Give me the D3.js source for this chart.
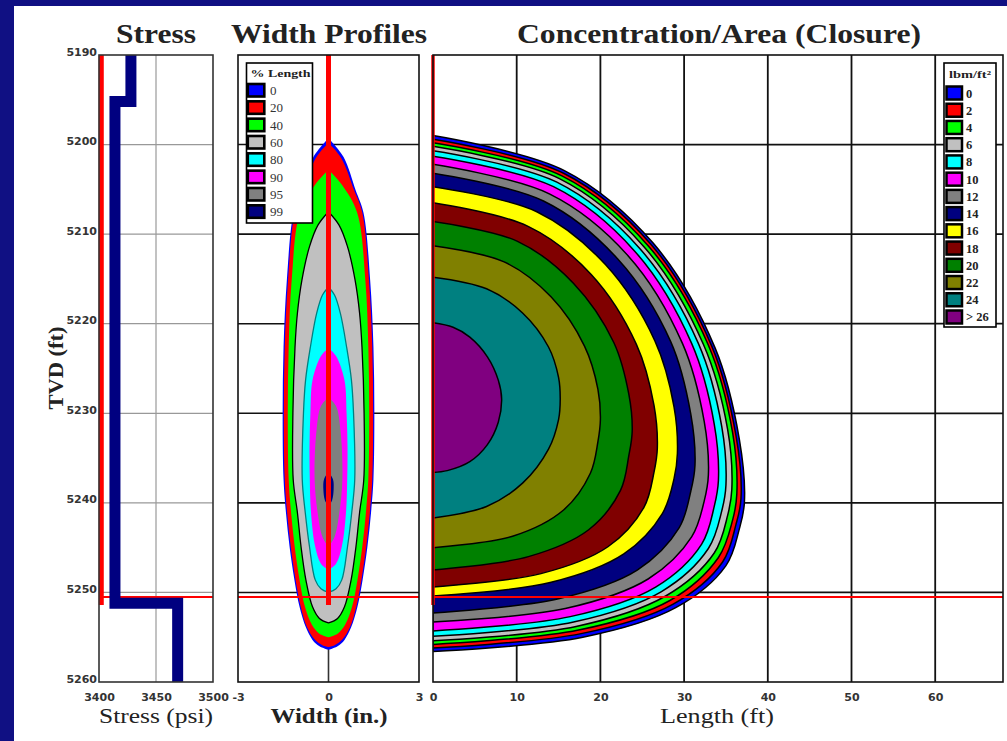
<!DOCTYPE html>
<html>
<head>
<meta charset="utf-8">
<script src="https://d3js.org/d3.v7.min.js"></script>
<style>
  body { margin: 0; background: #101083; }
</style>
</head>
<body>
<div id="chart"></div>
<script>
// tick values
var depthTicks = [5190, 5200, 5210, 5220, 5230, 5240, 5250, 5260];
var stressTicks = [3400, 3450, 3500];
var widthTicks = [-3, 0, 3];
var lengthTicks = [0, 10, 20, 30, 40, 50, 60];

// stress profile: [depth, psi]
var stressProfile = [[5190, 3428], [5195.2, 3428], [5195.2, 3414], [5251.2, 3414], [5251.2, 3469], [5260, 3469]];

// red reference lines
var netPressureStress = 3402;
var fracBottomDepth = 5251.4;
var redLineDepth = 5250.5;

// width profiles: % of length, colour, [depth, half width (in.)]
var widthPct = [0, 20, 40, 60, 80, 90, 95, 99];
var widthColors = ["#0000ff", "#ff0000", "#00ff00", "#c0c0c0", "#00ffff", "#ff00ff", "#808080", "#000080"];
var widthProfiles = [
  [[5199.3,0],[5201.4,0.5],[5205.1,0.9],[5207.6,1.16],[5215.1,1.38],[5222.6,1.49],[5230.0,1.52],[5237.4,1.49],[5241.1,1.41],[5244.9,1.29],[5248.6,1.13],[5251.6,0.96],[5253.9,0.75],[5255.3,0.53],[5256.0,0.3],[5256.4,0]],
  [[5199.8,0],[5201.5,0.42],[5205.1,0.85],[5207.6,1.12],[5215.1,1.34],[5222.6,1.45],[5230.0,1.48],[5237.4,1.45],[5241.1,1.37],[5244.9,1.25],[5248.6,1.09],[5251.6,0.92],[5253.9,0.71],[5255.2,0.47],[5255.9,0.2],[5256.1,0]],
  [[5202.8,0],[5204.5,0.45],[5207.6,0.95],[5215.1,1.22],[5222.6,1.32],[5230.0,1.35],[5237.4,1.32],[5241.1,1.24],[5244.9,1.12],[5248.6,0.96],[5251.6,0.78],[5253.6,0.55],[5254.6,0.3],[5255.0,0]],
  [[5207.5,0],[5209.0,0.35],[5211.4,0.63],[5215.1,0.88],[5218.8,1.03],[5222.6,1.11],[5230.0,1.18],[5237.4,1.17],[5241.1,1.03],[5244.9,0.91],[5248.6,0.75],[5251.6,0.53],[5252.9,0.3],[5253.4,0]],
  [[5215.9,0],[5216.8,0.2],[5218.8,0.39],[5222.6,0.6],[5226.3,0.76],[5230.0,0.83],[5237.4,0.87],[5241.1,0.77],[5244.9,0.63],[5248.6,0.44],[5249.6,0.25],[5250.0,0]],
  [[5222.7,0],[5223.6,0.25],[5226.3,0.53],[5230.0,0.6],[5233.8,0.63],[5237.4,0.62],[5241.1,0.58],[5244.9,0.44],[5246.8,0.25],[5247.5,0]],
  [[5228.2,0],[5229.2,0.25],[5232.0,0.4],[5237.4,0.46],[5241.1,0.36],[5243.8,0.2],[5244.9,0]],
  [[5236.5,0],[5237.4,0.15],[5238.5,0.17],[5239.7,0.12],[5240.4,0]]
];

// concentration contours: lbm/ft2 level, colour, [length ft, depth]
var concLevels = ["0", "2", "4", "6", "8", "10", "12", "14", "16", "18", "20", "22", "24", "> 26"];
var concColors = ["#0000ff", "#ff0000", "#00ff00", "#c0c0c0", "#00ffff", "#ff00ff", "#808080", "#000080",
                  "#ffff00", "#800000", "#008000", "#808000", "#008080", "#800080"];
var concContours = [
  [[0,5199.0],[15.7,5202.9],[26.3,5211.0],[33.7,5222.7],[36.6,5232.9],[37.2,5240.0],[36.6,5242.9],[35.0,5247.0],[29.0,5251.7],[17.9,5255.0],[0,5256.6]],
  [[0,5199.4],[15.6,5203.2],[26.0,5211.1],[33.3,5222.5],[36.2,5232.5],[36.8,5239.5],[36.2,5242.4],[34.6,5246.6],[28.7,5251.3],[17.7,5254.6],[0,5256.2]],
  [[0,5199.8],[15.4,5203.5],[25.7,5211.3],[32.9,5222.4],[35.8,5232.2],[36.3,5239.0],[35.8,5241.9],[34.1,5246.1],[28.3,5250.9],[17.4,5254.2],[0,5255.8]],
  [[0,5200.2],[15.1,5203.8],[25.2,5211.4],[32.3,5222.3],[35.2,5231.8],[35.7,5238.5],[35.2,5241.4],[33.6,5245.6],[27.8,5250.4],[17.1,5253.8],[0,5255.4]],
  [[0,5200.7],[14.8,5204.2],[24.7,5211.6],[31.7,5222.2],[34.5,5231.5],[35.0,5238.0],[34.5,5240.9],[32.9,5245.1],[27.3,5249.9],[16.8,5253.3],[0,5254.9]],
  [[0,5201.3],[14.4,5204.7],[24.1,5211.9],[30.9,5222.2],[33.6,5231.2],[34.1,5237.5],[33.6,5240.4],[32.1,5244.6],[26.6,5249.4],[16.4,5252.7],[0,5254.3]],
  [[0,5202.2],[13.9,5205.5],[23.3,5212.4],[29.8,5222.2],[32.4,5230.9],[32.9,5236.9],[32.4,5239.8],[30.9,5243.8],[25.7,5248.5],[15.8,5251.8],[0,5253.3]],
  [[0,5203.2],[13.2,5206.3],[22.1,5212.8],[28.4,5222.0],[30.8,5230.1],[31.3,5235.8],[30.8,5238.7],[29.4,5242.8],[24.4,5247.5],[15.0,5250.7],[0,5252.3]],
  [[0,5204.7],[12.4,5207.5],[20.6,5213.4],[26.5,5221.9],[28.8,5229.3],[29.2,5234.5],[28.8,5237.3],[27.4,5241.2],[22.8,5245.7],[14.0,5248.9],[0,5250.4]],
  [[0,5206.5],[11.3,5209.1],[18.9,5214.5],[24.3,5222.3],[26.4,5229.1],[26.8,5233.9],[26.4,5236.6],[25.2,5240.5],[20.9,5244.9],[12.9,5247.9],[0,5249.4]],
  [[0,5208.6],[10.1,5210.8],[16.8,5215.5],[21.6,5222.1],[23.4,5227.9],[23.8,5232.0],[23.4,5234.7],[22.4,5238.6],[18.6,5243.0],[11.4,5246.0],[0,5247.5]],
  [[0,5211.3],[8.5,5213.1],[14.1,5217.0],[18.1,5222.5],[19.7,5227.3],[20.0,5230.7],[19.7,5233.2],[18.8,5236.7],[15.6,5240.8],[9.6,5243.7],[0,5245.0]],
  [[0,5214.8],[6.4,5216.1],[10.7,5218.8],[13.8,5222.6],[15.0,5226.0],[15.2,5228.4],[15.0,5230.7],[13.8,5234.0],[10.7,5237.8],[6.4,5240.4],[0,5241.7]],
  [[0,5219.9],[2.4,5220.4],[4.4,5221.5],[6.5,5223.7],[7.8,5226.3],[8.2,5228.4],[7.8,5231.0],[6.5,5233.5],[4.4,5235.4],[1.7,5236.4],[0,5236.6]]
];

var serif = "'Liberation Serif', 'Times New Roman', serif";
var sans = "'DejaVu Sans', sans-serif";

// svg + page
var svgWidth = 1007;
var svgHeight = 741;
var svg = d3.select("#chart")
  .append("svg")
  .attr("width", svgWidth)
  .attr("height", svgHeight);

svg.append("rect").attr("width", svgWidth).attr("height", svgHeight).attr("fill", "#101083");
svg.append("rect").attr("x", 14).attr("y", 6).attr("width", svgWidth - 14).attr("height", svgHeight - 6).attr("fill", "#fff");

// panels share the depth scale
var plotTop = 55, plotBottom = 682;
var yD = d3.scaleLinear().domain([5190, 5260]).range([plotTop, plotBottom]);
var xS = d3.scaleLinear().domain([3400, 3500]).range([99, 213]);
var xW = d3.scaleLinear().domain([-3, 3]).range([238, 419]);
var xL = d3.scaleLinear().domain([0, 68.1]).range([433, 1003]);

var defs = svg.append("defs");
function clip(id, x) {
  defs.append("clipPath").attr("id", id).append("rect")
    .attr("x", x.range()[0]).attr("y", plotTop)
    .attr("width", x.range()[1] - x.range()[0]).attr("height", plotBottom - plotTop);
}
clip("clipS", xS); clip("clipW", xW); clip("clipC", xL);

var innerDepths = depthTicks.slice(1, -1);

function hGrid(g, x, color, w) {
  g.selectAll(null).data(innerDepths).enter().append("line")
    .attr("x1", x.range()[0]).attr("x2", x.range()[1])
    .attr("y1", function (d) { return yD(d); }).attr("y2", function (d) { return yD(d); })
    .attr("stroke", color).attr("stroke-width", w);
}
function vGrid(g, x, vals, color, w) {
  g.selectAll(null).data(vals).enter().append("line")
    .attr("x1", function (d) { return x(d); }).attr("x2", function (d) { return x(d); })
    .attr("y1", plotTop).attr("y2", plotBottom)
    .attr("stroke", color).attr("stroke-width", w);
}
function border(g, x, color) {
  g.append("rect").attr("x", x.range()[0]).attr("y", plotTop)
    .attr("width", x.range()[1] - x.range()[0]).attr("height", plotBottom - plotTop)
    .attr("fill", "none").attr("stroke", color).attr("stroke-width", 1.6);
}
function redLines(g, x, xVal, w) {
  g.append("line").attr("x1", x.range()[0]).attr("x2", x.range()[1])
    .attr("y1", yD(redLineDepth)).attr("y2", yD(redLineDepth))
    .attr("stroke", "#ff0000").attr("stroke-width", 2);
  g.append("line").attr("x1", x(xVal)).attr("x2", x(xVal))
    .attr("y1", plotTop).attr("y2", yD(fracBottomDepth))
    .attr("stroke", "#ff0000").attr("stroke-width", w);
}

// ---------- Stress panel
var gS = svg.append("g");
hGrid(gS, xS, "#999", 1.2);
vGrid(gS, xS, [3450], "#999", 1.2);
redLines(gS, xS, netPressureStress, 5);
gS.append("path")
  .datum(stressProfile)
  .attr("clip-path", "url(#clipS)")
  .attr("d", d3.line().x(function (d) { return xS(d[1]); }).y(function (d) { return yD(d[0]); }))
  .attr("fill", "none").attr("stroke", "#000080").attr("stroke-width", 11);
border(gS, xS, "#333");

// ---------- Width profiles panel
var gW = svg.append("g");
hGrid(gW, xW, "#111", 1.6);
vGrid(gW, xW, [0], "#333", 1.6);
var widthArea = d3.area()
  .y(function (d) { return yD(d[0]); })
  .x0(function (d) { return xW(-d[1]); })
  .x1(function (d) { return xW(d[1]); })
  .curve(d3.curveCatmullRom);
gW.selectAll(".wprof").data(widthProfiles).enter().append("path")
  .attr("class", "wprof")
  .attr("clip-path", "url(#clipW)")
  .attr("d", widthArea)
  .attr("fill", function (d, i) { return widthColors[i]; })
  .attr("stroke", function (d, i) { return i === 3 ? "#000" : (i === 4 ? "#008080" : "none"); })
  .attr("stroke-width", 1.3);
redLines(gW, xW, 0, 5);
border(gW, xW, "#111");

// width legend
var wLeg = svg.append("g").attr("transform", "translate(246.5,63)");
wLeg.append("rect").attr("width", 66).attr("height", 160)
  .attr("fill", "#fff").attr("stroke", "#000").attr("stroke-width", 1.6);
wLeg.append("text").attr("x", 4).attr("y", 13.5).attr("textLength", 60).attr("lengthAdjust", "spacingAndGlyphs")
  .attr("font-family", serif).attr("font-weight", "bold").attr("font-size", 11).attr("fill", "#222")
  .text("% Length");
widthPct.forEach(function (p, i) {
  wLeg.append("rect").attr("x", 1.3).attr("y", 21 + i * 17.33).attr("width", 16.5).attr("height", 12.5)
    .attr("fill", widthColors[i]).attr("stroke", "#000").attr("stroke-width", 2.6);
  wLeg.append("text").attr("x", 23.5).attr("y", 32 + i * 17.33)
    .attr("font-family", serif).attr("font-size", 13).attr("fill", "#333")
    .text(p);
});

// ---------- Concentration panel
var gC = svg.append("g");
hGrid(gC, xL, "#111", 1.8);
vGrid(gC, xL, lengthTicks.slice(1), "#111", 1.8);
var contourLine = d3.line()
  .x(function (d) { return xL(d[0]); })
  .y(function (d) { return yD(d[1]); })
  .curve(d3.curveCatmullRom);
gC.selectAll(".cont").data(concContours).enter().append("path")
  .attr("class", "cont")
  .attr("clip-path", "url(#clipC)")
  .attr("d", function (d) { return contourLine(d) + "Z"; })
  .attr("fill", function (d, i) { return concColors[i]; })
  .attr("stroke", "#000").attr("stroke-width", 1.5);
redLines(gC, xL, 0, 3.5);
border(gC, xL, "#111");

// concentration legend
var cLeg = svg.append("g").attr("transform", "translate(944,63)");
cLeg.append("rect").attr("width", 52).attr("height", 264)
  .attr("fill", "#fff").attr("stroke", "#000").attr("stroke-width", 1.6);
cLeg.append("text").attr("x", 26).attr("y", 15).attr("text-anchor", "middle")
  .attr("textLength", 42).attr("lengthAdjust", "spacingAndGlyphs")
  .attr("font-family", serif).attr("font-weight", "bold").attr("font-size", 10.5).attr("fill", "#222")
  .text("lbm/ft²");
concLevels.forEach(function (c, i) {
  cLeg.append("rect").attr("x", 2.5).attr("y", 23.5 + i * 17.23).attr("width", 15.5).attr("height", 13)
    .attr("fill", concColors[i]).attr("stroke", "#000").attr("stroke-width", 2.5);
  cLeg.append("text").attr("x", 22).attr("y", 34.5 + i * 17.23)
    .attr("font-family", serif).attr("font-weight", "bold").attr("font-size", 12.5).attr("fill", "#222")
    .text(c);
});

// ---------- axes (labels only)
function styleAxis(g) {
  g.select(".domain").remove();
  g.selectAll("text").attr("font-family", sans).attr("font-weight", "bold")
    .attr("font-size", 11).attr("fill", "#333");
}
function plain(d) { return String(d); }
svg.append("g").attr("transform", "translate(99,0)")
  .call(d3.axisLeft(yD).tickValues(depthTicks).tickSize(0).tickPadding(2).tickFormat(plain))
  .call(styleAxis)
  .selectAll("text").attr("dy", "0");
svg.append("g").attr("transform", "translate(0," + plotBottom + ")")
  .call(d3.axisBottom(xS).tickValues(stressTicks).tickSize(0).tickPadding(11).tickFormat(plain))
  .call(styleAxis);
svg.append("g").attr("transform", "translate(0," + plotBottom + ")")
  .call(d3.axisBottom(xW).tickValues(widthTicks).tickSize(0).tickPadding(11).tickFormat(plain))
  .call(styleAxis);
svg.append("g").attr("transform", "translate(0," + plotBottom + ")")
  .call(d3.axisBottom(xL).tickValues(lengthTicks).tickSize(0).tickPadding(11).tickFormat(plain))
  .call(styleAxis);

// ---------- titles
function label(x, y, txt, size, bold, len) {
  return svg.append("text").attr("x", x).attr("y", y).attr("text-anchor", "middle")
    .attr("font-family", serif).attr("font-size", size)
    .attr("font-weight", bold ? "bold" : "normal").attr("fill", "#222")
    .attr("textLength", len).attr("lengthAdjust", "spacingAndGlyphs")
    .text(txt);
}
label(156, 43, "Stress", 28, true, 80);
label(329, 43, "Width Profiles", 28, true, 196);
label(719, 43, "Concentration/Area (Closure)", 28, true, 404);
label(156, 723, "Stress (psi)", 21, false, 114);
label(329, 723, "Width (in.)", 22, true, 117);
label(717, 723, "Length (ft)", 22, false, 114);
label(0, 0, "TVD (ft)", 20, true, 83).attr("transform", "translate(63,368) rotate(-90)");
</script>
</body>
</html>
